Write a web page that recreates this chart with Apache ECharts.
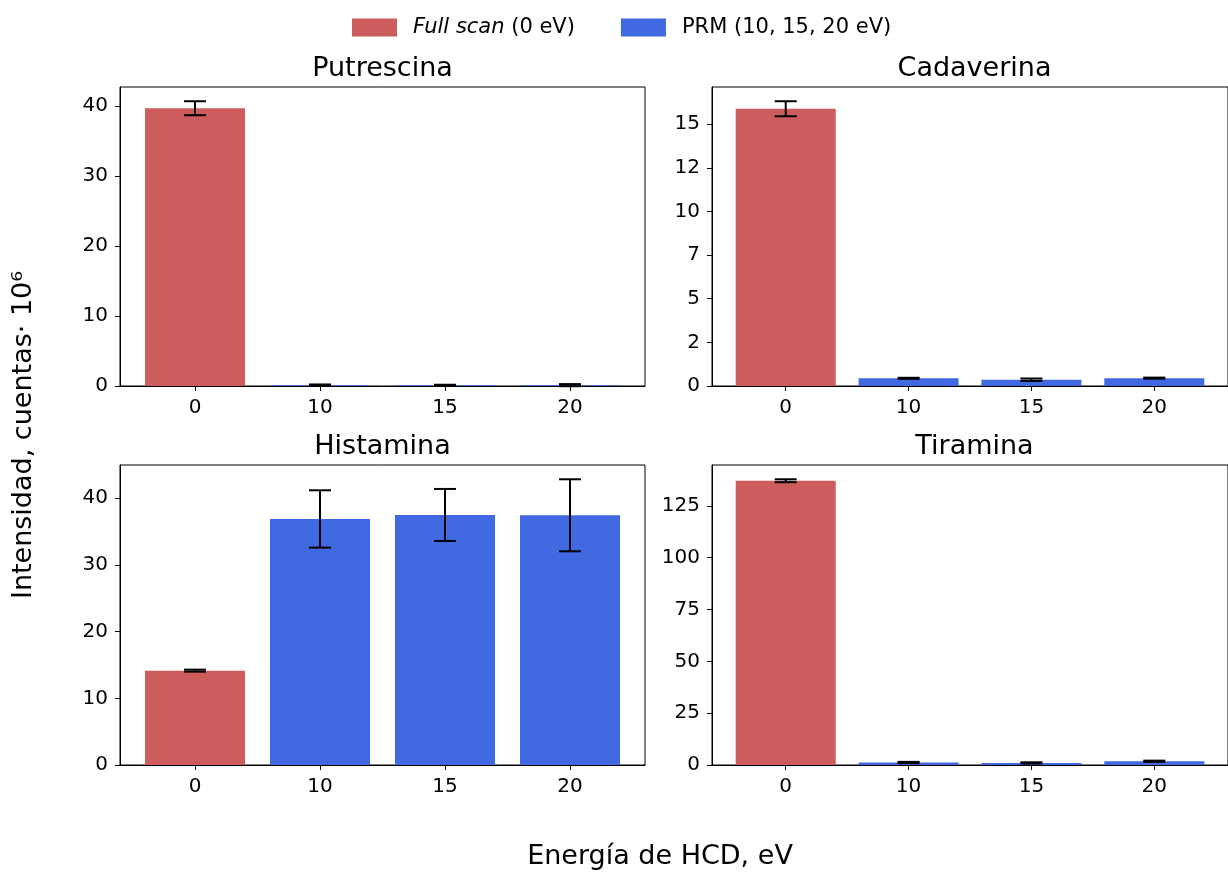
<!DOCTYPE html>
<html>
	<head>
		<meta charset="utf-8">
		<title>Intensidad vs Energía de HCD</title>
		<style>
			html, body { margin: 0; padding: 0; background: #fff; }
			#main { width: 1228px; height: 872px; }
		</style>
	</head>
	<body>
		<div id="main"></div>
		<script src="https://cdn.jsdelivr.net/npm/echarts@6/dist/echarts.min.js"></script>
		<script>
			// datos (intensidad, cuentas x 10^6)
			var categories = ['0', '10', '15', '20'];
			var titles = ['Putrescina', 'Cadaverina', 'Histamina', 'Tiramina'];

			var putrescina = [39.7, 0.12, 0.10, 0.12];
			var putrescinaErr = [1.0, 0.10, 0.08, 0.15];
			var cadaverina = [15.88, 0.44, 0.36, 0.45];
			var cadaverinaErr = [0.43, 0.03, 0.07, 0.03];
			var histamina = [14.15, 36.9, 37.5, 37.45];
			var histaminaErr = [0.15, 4.3, 3.9, 5.4];
			var tiramina = [137.1, 1.2, 1.0, 1.8];
			var tiraminaErr = [0.7, 0.3, 0.3, 0.3];

			var yTicks = [
				[0, 10, 20, 30, 40],
				[0, 2.5, 5, 7.5, 10, 12.5, 15],
				[0, 10, 20, 30, 40],
				[0, 25, 50, 75, 100, 125]
			];

			var values = [putrescina, cadaverina, histamina, tiramina];
			var errors = [putrescinaErr, cadaverinaErr, histaminaErr, tiraminaErr];

			var FONT = 'DejaVu Sans';
			var RED = '#CD5C5C';
			var BLUE = '#4169E1';
			// posiciones de los 4 paneles
			var grids = [
				{ left: 120, top: 87, width: 525, height: 299 },
				{ left: 712, top: 87, width: 525, height: 299 },
				{ left: 120, top: 465, width: 525, height: 300 },
				{ left: 712, top: 465, width: 525, height: 300 }
			];

			var myChart = echarts.init(document.getElementById('main'));

			var option = {
				backgroundColor: '#fff',
				animation: false,
				legend: {
					left: 352,
					top: 17,
					padding: 0,
					itemWidth: 45,
					itemHeight: 18,
					itemGap: 46,
					icon: 'rect',
					data: ['Full scan (0 eV)', 'PRM (10, 15, 20 eV)'],
					formatter: function(name) {
						return name === 'Full scan (0 eV)' ? '{i|Full scan} (0 eV)' : name;
					},
					textStyle: {
						fontFamily: FONT,
						fontSize: 21,
						color: '#000',
						padding: [0, 0, 0, 11],
						rich: {
							i: { fontFamily: FONT, fontSize: 21, fontStyle: 'italic', color: '#000' }
						}
					}
				},
				grid: [],
				xAxis: [],
				yAxis: [],
				series: [],
				graphic: []
			};

			for (var p = 0; p < 4; p++) {
				var g = grids[p];
				option.grid.push({
					left: g.left, top: g.top, width: g.width, height: g.height,
					show: true, borderColor: '#000', borderWidth: 1, containLabel: false
				});
				option.xAxis.push({
					type: 'value',
					gridIndex: p,
					min: -0.6,
					max: 3.6,
					splitLine: { show: false },
					axisLine: { show: true, onZero: false, lineStyle: { color: '#000', width: 1 } },
					axisTick: { show: true, length: 5, customValues: [0, 1, 2, 3], lineStyle: { color: '#000' } },
					axisLabel: {
						customValues: [0, 1, 2, 3],
						margin: 12,
						fontFamily: FONT, fontSize: 20, color: '#000',
						formatter: function(v) { return categories[Math.round(v)]; }
					}
				});
				var ymax = 0;
				for (var k = 0; k < 4; k++) ymax = Math.max(ymax, values[p][k] + errors[p][k]);
				option.yAxis.push({
					type: 'value',
					gridIndex: p,
					min: 0,
					max: ymax * 1.05,
					splitLine: { show: false },
					axisLine: { show: true, onZero: false, lineStyle: { color: '#000', width: 1 } },
					axisTick: { show: true, length: 5, customValues: yTicks[p], lineStyle: { color: '#000' } },
					axisLabel: {
						customValues: yTicks[p],
						margin: 12,
						fontFamily: FONT, fontSize: 20, color: '#000',
						formatter: function(v) { return String(Math.trunc(v)); }
					}
				});

				option.series.push({
					name: 'Full scan (0 eV)',
					type: 'bar',
					xAxisIndex: p, yAxisIndex: p,
					barWidth: 100,
					barGap: '-100%',
					itemStyle: { color: RED },
					data: [[0, values[p][0]]]
				});
				option.series.push({
					name: 'PRM (10, 15, 20 eV)',
					type: 'bar',
					xAxisIndex: p, yAxisIndex: p,
					barWidth: 100,
					barGap: '-100%',
					itemStyle: { color: BLUE },
					data: [[1, values[p][1]], [2, values[p][2]], [3, values[p][3]]]
				});
				// barras de error
				var errData = [];
				for (var k = 0; k < 4; k++) errData.push([k, values[p][k], errors[p][k]]);
				option.series.push({
					type: 'custom',
					xAxisIndex: p, yAxisIndex: p,
					z: 10,
					encode: { x: 0, y: 1 },
					data: errData,
					renderItem: function(params, api) {
						var x = api.value(0), y = api.value(1), e = api.value(2);
						var hi = api.coord([x, y + e]);
						var lo = api.coord([x, y - e]);
						var cap = 11;
						var st = { stroke: '#000', lineWidth: 2 };
						return {
							type: 'group',
							children: [
								{ type: 'line', shape: { x1: hi[0], y1: hi[1], x2: lo[0], y2: lo[1] }, style: st },
								{ type: 'line', shape: { x1: hi[0] - cap, y1: hi[1], x2: hi[0] + cap, y2: hi[1] }, style: st },
								{ type: 'line', shape: { x1: lo[0] - cap, y1: lo[1], x2: lo[0] + cap, y2: lo[1] }, style: st }
							]
						};
					}
				});

				option.graphic.push({
					type: 'text',
					x: g.left + 262.5,
					y: g.top - 18,
					style: {
						text: titles[p], fontFamily: FONT, fontSize: 27, fill: '#000',
						align: 'center', verticalAlign: 'middle'
					}
				});
			}

			option.graphic.push({
				type: 'text',
				x: 24,
				y: 435,
				rotation: Math.PI / 2,
				style: {
					text: 'Intensidad, cuentas· 10⁶', fontFamily: FONT, fontSize: 27, fill: '#000',
					align: 'center', verticalAlign: 'middle'
				}
			});
			option.graphic.push({
				type: 'text',
				x: 660,
				y: 857,
				style: {
					text: 'Energía de HCD, eV', fontFamily: FONT, fontSize: 27, fill: '#000',
					align: 'center', verticalAlign: 'middle'
				}
			});

			myChart.setOption(option);
		</script>
	</body>
</html>
